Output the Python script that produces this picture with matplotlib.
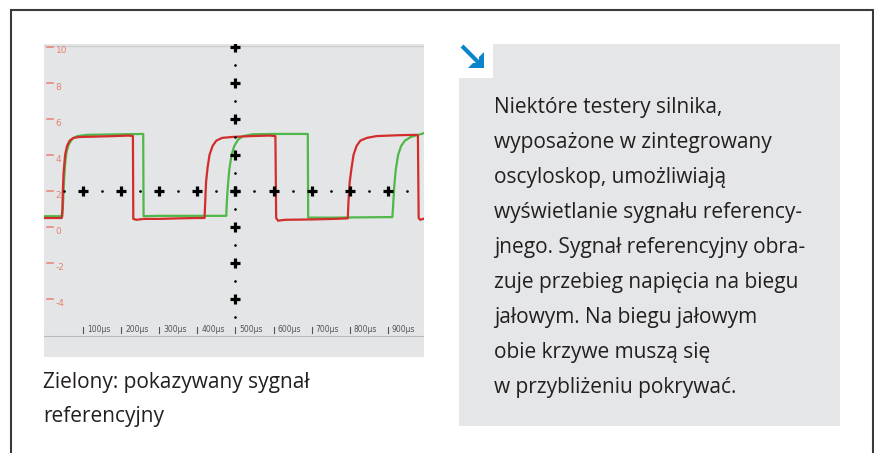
import matplotlib
matplotlib.use("Agg")
import matplotlib.pyplot as plt
from matplotlib.patches import Polygon

W, H = 874, 453

# ---------------- data ----------------
# measured signal (red), time in microseconds, voltage in volts
red_t = [0, 44, 46, 47, 49, 53, 58, 65, 75, 90, 130, 180, 220, 231, 232, 240, 260, 300, 350, 400, 419,
         421, 423, 427, 432, 440, 450, 465, 490, 540, 590, 605, 607, 612, 630, 700, 760, 795,
         797, 800, 805, 810, 818, 828, 845, 870, 930, 975, 979, 981, 985, 993]
red_v = [0.5, 0.5, 1.0, 2.0, 3.0, 4.0, 4.5, 4.8, 4.95, 5.0, 5.02, 5.05, 5.08, 5.05, 0.45, 0.4, 0.45, 0.45, 0.48, 0.5, 0.5,
         1.5, 2.5, 3.3, 4.0, 4.5, 4.8, 4.95, 5.0, 5.05, 5.08, 5.05, 0.5, 0.35, 0.4, 0.42, 0.45, 0.48,
         1.5, 2.5, 3.3, 4.0, 4.5, 4.8, 4.95, 5.05, 5.1, 5.12, 5.1, 0.5, 0.4, 0.45]
# reference signal (green)
green_t = [0, 46, 48, 50, 53, 57, 63, 72, 85, 110, 200, 258, 259, 300, 400, 476,
           477, 480, 484, 490, 497, 507, 520, 545, 600, 690, 691, 750, 850, 912,
           914, 917, 921, 927, 935, 945, 960, 980, 993]
green_v = [0.6, 0.6, 1.5, 2.5, 3.5, 4.2, 4.6, 4.9, 5.05, 5.12, 5.15, 5.17, 0.6, 0.62, 0.62, 0.62,
           1.2, 2.2, 3.2, 4.0, 4.5, 4.85, 5.05, 5.15, 5.17, 5.17, 0.52, 0.52, 0.54, 0.55,
           1.2, 2.3, 3.2, 4.0, 4.5, 4.8, 5.0, 5.12, 5.2]

y_ticks = [10, 8, 6, 4, 2, 0, -2, -4]
y_tick_labels = ["10", "8", "6", "4", "2", "0", "-2", "-4"]
x_ticks = [100, 200, 300, 400, 500, 600, 700, 800, 900]
x_tick_labels = ["100µs", "200µs", "300µs", "400µs", "500µs", "600µs", "700µs", "800µs", "900µs"]

# graticule (cross-hair) marks
h_major_t = [100, 200, 300, 400, 500, 600, 700, 800, 900]
h_minor_t = [50, 150, 250, 350, 450, 550, 650, 750, 850, 950]
v_major_v = [10, 8, 6, 4, 2, 0, -2, -4]
v_minor_v = [9, 7, 5, 3, 1, -1, -3, -5]
center_t = 500
center_v = 2

caption_lines = ["Zielony: pokazywany sygnał", "referencyjny"]
body_lines = ["Niektóre testery silnika,",
              "wyposażone w zintegrowany",
              "oscyloskop, umożliwiają",
              "wyświetlanie sygnału referency-",
              "jnego. Sygnał referencyjny obra-",
              "zuje przebieg napięcia na biegu",
              "jałowym. Na biegu jałowym",
              "obie krzywe muszą się",
              "w przybliżeniu pokrywać."]

# ---------------- figure ----------------
FONT = "Open Sans"
TXT = "#231f20"
GRAY = "#e5e6e8"

fig = plt.figure(figsize=(W / 100, H / 100), dpi=100)
fig.patch.set_facecolor("white")

page = fig.add_axes([0, 0, 1, 1])
page.set_xlim(0, W)
page.set_ylim(H, 0)
page.axis("off")

# outer frame (top, left, right)
page.plot([11, 11, 873, 873], [H + 5, 10, 10, H + 5], color="#3a3a3a", lw=1.5,
          solid_joinstyle="miter", zorder=1)

# grey text panel with notch for the arrow
panel = Polygon([(459, 78), (493, 78), (493, 44), (840, 44), (840, 426), (459, 426)],
                closed=True, facecolor=GRAY, edgecolor="none", zorder=1)
page.add_patch(panel)

# blue arrow
BLUE = "#0a85cb"
page.plot([462, 479], [46, 63], color=BLUE, lw=3.0, solid_capstyle="butt", zorder=3)
head = Polygon([(484, 68), (484, 52), (479, 57), (479, 63), (473, 63), (468, 68)],
               closed=True, facecolor=BLUE, edgecolor="none", zorder=3)
page.add_patch(head)

for i, line in enumerate(body_lines):
    page.text(494, 113 + 35 * i, line, fontsize=15, family=FONT, color=TXT,
              ha="left", va="baseline", zorder=4)
for i, line in enumerate(caption_lines):
    page.text(43, 388 + 34 * i, line, fontsize=15, family=FONT, color=TXT,
              ha="left", va="baseline", zorder=4)

# ---------------- oscilloscope ----------------
px_per_us = 0.381
t0_px = 44.9
px_per_v = 18.0
v2_px = 191.0


def t_of(px):
    return (px - t0_px) / px_per_us


def v_of(py):
    return center_v + (v2_px - py) / px_per_v


L, T, R, B = 44, 44, 424, 357
ax = fig.add_axes([L / W, 1 - B / H, (R - L) / W, (B - T) / H])
ax.set_xlim(t_of(L), t_of(R))
ax.set_ylim(v_of(B), v_of(T))
ax.set_facecolor("#e4e5e7")
for s in ax.spines.values():
    s.set_visible(False)
ax.set_xticks([])
ax.set_yticks([])

# top and bottom border lines of the screen
ax.axhline(v_of(46), color="#cfd0d2", lw=1.0)
ax.axhline(v_of(336), color="#b9babc", lw=0.8)

# y tick dashes and labels
SALMON = "#e8806f"
for v, lab in zip(y_ticks, y_tick_labels):
    ax.plot([t_of(47), t_of(53)], [v, v], color=SALMON, lw=1.1)
    ax.text(t_of(55.5), v - 4 / px_per_v, lab, fontsize=6.5, color=SALMON, family="DejaVu Sans",
            ha="left", va="center")

# x tick bars and labels
for t, lab in zip(x_ticks, x_tick_labels):
    ax.plot([t, t], [v_of(326.5), v_of(333)], color="#555555", lw=0.8)
    ax.text(t + 4 / px_per_us, v_of(330), lab, fontsize=5.5, color="#555555", family="DejaVu Sans",
            ha="left", va="center")

# signals
ax.plot(green_t, green_v, color="#4fb848", lw=1.6, solid_joinstyle="round", zorder=3)
ax.plot(red_t, red_v, color="#d22d2a", lw=1.6, solid_joinstyle="round", zorder=4)

# graticule
ax.plot(h_major_t, [center_v] * len(h_major_t), ls="none", marker="+", ms=7, mew=2.3,
        color="black", zorder=5)
ax.plot(h_minor_t, [center_v] * len(h_minor_t), ls="none", marker="o", ms=1.9,
        color="black", mew=0, zorder=5)
ax.plot([center_t] * len(v_major_v), v_major_v, ls="none", marker="+", ms=7, mew=2.3,
        color="black", zorder=5)
ax.plot([center_t] * len(v_minor_v), v_minor_v, ls="none", marker="o", ms=1.9,
        color="black", mew=0, zorder=5)

fig.savefig("out.png", dpi=100)
